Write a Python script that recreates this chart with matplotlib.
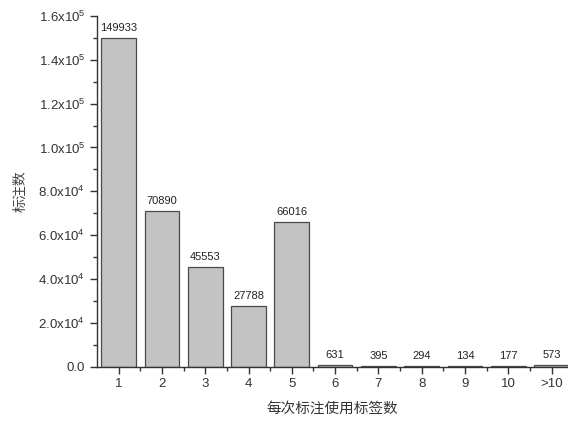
import numpy as np
import matplotlib
matplotlib.use('Agg')
from matplotlib import pyplot as plt
from matplotlib.ticker import MultipleLocator, FixedLocator, FuncFormatter

plt.rcParams['font.family'] = ['Liberation Sans', 'Noto Sans CJK SC', 'DejaVu Sans']
plt.rcParams['mathtext.fontset'] = 'custom'
plt.rcParams['mathtext.rm'] = 'Liberation Sans'
plt.rcParams['mathtext.it'] = 'Liberation Sans:italic'

# 每次标注使用的标签数量及对应标注数
categories = ['1', '2', '3', '4', '5', '6', '7', '8', '9', '10', '>10']
counts = [149933, 70890, 45553, 27788, 66016, 631, 395, 294, 134, 177, 573]
y_ticks = [0, 20000, 40000, 60000, 80000, 100000, 120000, 140000, 160000]


def sci_label(v, pos):
    # 0 显示为 0.0，其余写成 a.bx10^n
    if v == 0:
        return '0.0'
    exp = int(np.floor(np.log10(v)))
    return f'{v / 10 ** exp:.1f}x10$^{{{exp}}}$'


fig = plt.figure(figsize=(5.68, 4.23), dpi=100)
ax = fig.add_axes([97 / 568, 56.5 / 423, 471 / 568, 350.5 / 423])

x = np.arange(1, len(categories) + 1)
bars = ax.bar(x, counts, width=0.8, color='#c3c3c3', edgecolor='#4a4a4a', linewidth=0.9)
for xi, c in zip(x, counts):
    ax.text(xi, c + 2300, str(c), ha='center', va='bottom', fontsize=8, color='#222222')

ax.set_xlim(0.5, 11.38)
ax.set_ylim(0, 160000)
ax.set_xticks(x)
ax.set_xticklabels(categories)
ax.xaxis.set_minor_locator(FixedLocator(x[:-1] + 0.5))
ax.yaxis.set_major_locator(FixedLocator(y_ticks))
ax.yaxis.set_minor_locator(MultipleLocator(10000))
ax.yaxis.set_major_formatter(FuncFormatter(sci_label))

for side in ['top', 'right']:
    ax.spines[side].set_visible(False)
for side in ['left', 'bottom']:
    ax.spines[side].set_color('#333333')
    ax.spines[side].set_linewidth(1.0)

ax.tick_params(axis='both', which='major', direction='out', length=5, width=1.0,
               colors='#333333', labelsize=9.5, labelcolor='#333333')
ax.tick_params(axis='both', which='minor', direction='out', length=3, width=1.0, colors='#333333')

ax.set_ylabel('标注数', family=['Noto Sans CJK SC'], fontsize=10, color='#444444', labelpad=8)
ax.set_xlabel('每次标注使用标签数', family=['Noto Sans CJK SC'], fontsize=10.5, color='#333333', labelpad=8)

fig.savefig('out.png', dpi=100)
